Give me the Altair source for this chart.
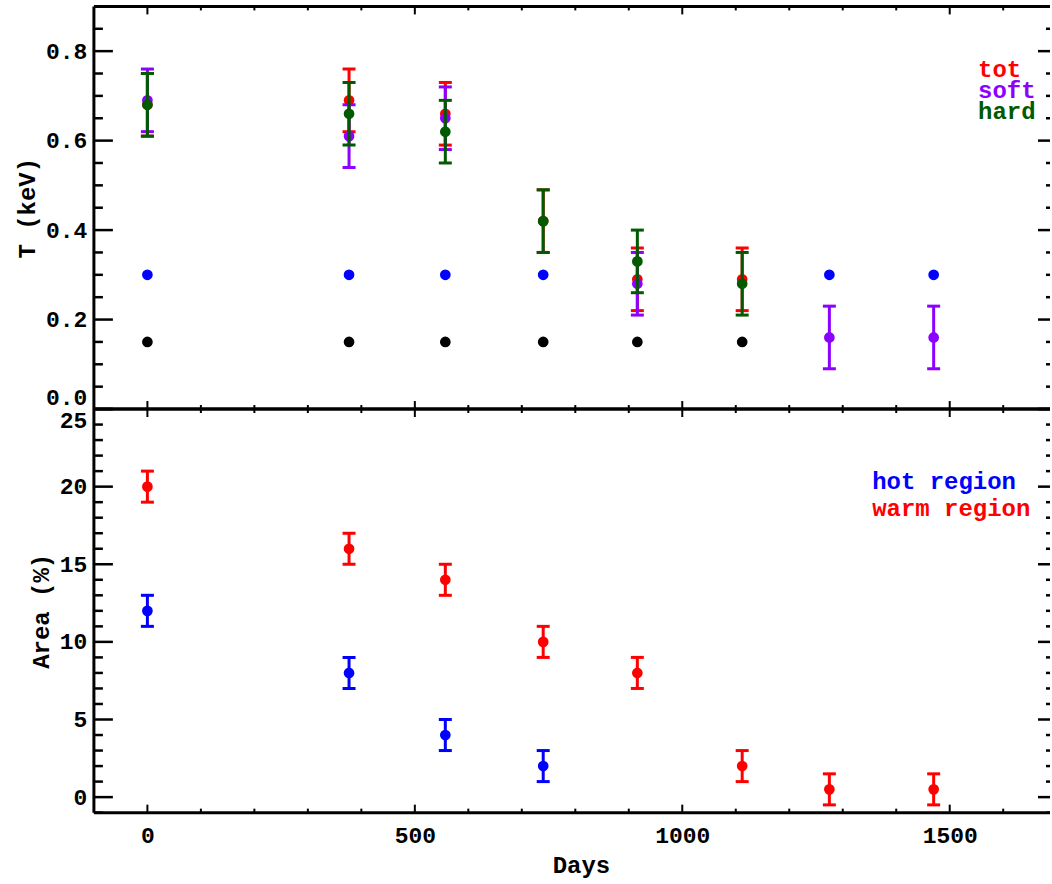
import altair as alt
import pandas as pd

# ---------------- data ----------------
tot_days = [0, 377, 557, 740, 916, 1112]
tot_T = [0.68, 0.69, 0.66, 0.42, 0.29, 0.29]
tot_err = [0.07, 0.07, 0.07, 0.07, 0.07, 0.07]

soft_days = [0, 377, 557, 916, 1275, 1470]
soft_T = [0.69, 0.61, 0.65, 0.28, 0.16, 0.16]
soft_err = [0.07, 0.07, 0.07, 0.07, 0.07, 0.07]

hard_days = [0, 377, 557, 740, 916, 1112]
hard_T = [0.68, 0.66, 0.62, 0.42, 0.33, 0.28]
hard_err = [0.07, 0.07, 0.07, 0.07, 0.07, 0.07]

hotT_days = [0, 377, 557, 740, 1275, 1470]
hotT = [0.30, 0.30, 0.30, 0.30, 0.30, 0.30]

coolT_days = [0, 377, 557, 740, 916, 1112]
coolT = [0.15, 0.15, 0.15, 0.15, 0.15, 0.15]

hot_area_days = [0, 377, 557, 740]
hot_area = [12, 8, 4, 2]
hot_area_err = [1, 1, 1, 1]

warm_area_days = [0, 377, 557, 740, 916, 1112, 1275, 1470]
warm_area = [20, 16, 14, 10, 8, 2, 0.5, 0.5]
warm_area_err = [1, 1, 1, 1, 1, 1, 1, 1]

x_major = [0, 500, 1000, 1500]
x_minor = [100, 200, 300, 400, 600, 700, 800, 900, 1100, 1200, 1300, 1400, 1600]
T_major = [0.0, 0.2, 0.4, 0.6, 0.8]
T_minor = [0.05, 0.1, 0.15, 0.25, 0.3, 0.35, 0.45, 0.5, 0.55, 0.65, 0.7, 0.75, 0.85]
A_major = [0, 5, 10, 15, 20, 25]
A_minor = [-1, 1, 2, 3, 4, 6, 7, 8, 9, 11, 12, 13, 14, 16, 17, 18, 19, 21, 22, 23, 24]

top_legend = ["tot", "soft", "hard"]
bot_legend = ["hot region", "warm region"]

RED = "#ff0000"
PURPLE = "#8c00ff"
GREEN = "#005a00"
BLUE = "#0000ff"
BLACK = "#000000"

# ---------------- layout ----------------
W = 957
H1 = 403
H2 = 404
FONT = "Liberation Mono"

XS = alt.Scale(domain=[-100, 1687.5], nice=False, zero=False)
TS = alt.Scale(domain=[0, 0.9], nice=False, zero=False)
AS = alt.Scale(domain=[-1, 25], nice=False, zero=False)

x_axis_bottom = alt.Axis(values=x_major, format="d", ticks=False, tickSize=0, domain=False,
                         grid=False, title="Days", labelPadding=12, titlePadding=6,
                         titleX=W / 2 + 9)
T_axis = alt.Axis(values=T_major, format=".1f", ticks=False, tickSize=0, domain=False,
                  grid=False, title="T (keV)", labelPadding=7, titlePadding=6, labelFlush=True)
A_axis = alt.Axis(values=A_major, format="d", ticks=False, tickSize=0, domain=False,
                  grid=False, title="Area (%)", labelPadding=7, titlePadding=6, labelFlush=True)


def series(days, vals, errs, color, ys, yax, xax):
    df = pd.DataFrame({
        "day": days,
        "val": vals,
        "lo": [v - e for v, e in zip(vals, errs)],
        "hi": [v + e for v, e in zip(vals, errs)],
    })
    base = alt.Chart(df)
    X = alt.X("day:Q", scale=XS, axis=xax)
    bar = base.mark_rule(color=color, strokeWidth=3, opacity=1).encode(
        x=X, y=alt.Y("lo:Q", scale=ys, axis=yax), y2="hi:Q")
    c1 = base.mark_tick(color=color, orient="horizontal", size=13, thickness=3, opacity=1).encode(
        x=X, y=alt.Y("lo:Q", scale=ys, axis=yax))
    c2 = base.mark_tick(color=color, orient="horizontal", size=13, thickness=3, opacity=1).encode(
        x=X, y=alt.Y("hi:Q", scale=ys, axis=yax))
    pt = base.mark_circle(color=color, size=115, opacity=1).encode(
        x=X, y=alt.Y("val:Q", scale=ys, axis=yax))
    return [bar, c1, c2, pt]


def points(days, vals, color, ys, yax, xax):
    df = pd.DataFrame({"day": days, "val": vals})
    return [alt.Chart(df).mark_circle(color=color, size=115, opacity=1).encode(
        x=alt.X("day:Q", scale=XS, axis=xax), y=alt.Y("val:Q", scale=ys, axis=yax))]


def frame(H, ys, yax, xax, y_major, y_minor):
    L = []
    one = pd.DataFrame({"d": [0]})
    bw = 3
    # borders (left, top, bottom); right edge is cropped in the reference
    L.append(alt.Chart(one).mark_rule(color=BLACK, strokeWidth=bw).encode(
        x=alt.value(0), y=alt.value(0), y2=alt.value(H)))
    L.append(alt.Chart(one).mark_rule(color=BLACK, strokeWidth=bw).encode(
        x=alt.value(0), x2=alt.value(W), y=alt.value(0)))
    L.append(alt.Chart(one).mark_rule(color=BLACK, strokeWidth=bw).encode(
        x=alt.value(0), x2=alt.value(W), y=alt.value(H)))
    # y ticks (inward) left and right
    for vals, ln, rl in [(y_major, 19, 12), (y_minor, 9, 4)]:
        d = pd.DataFrame({"v": vals})
        Y = alt.Y("v:Q", scale=ys, axis=yax)
        L.append(alt.Chart(d).mark_rule(color=BLACK, strokeWidth=2.5).encode(
            y=Y, x=alt.value(0), x2=alt.value(ln)))
        L.append(alt.Chart(d).mark_rule(color=BLACK, strokeWidth=2.5).encode(
            y=Y, x=alt.value(W - rl), x2=alt.value(W)))
    # x ticks (inward) top and bottom
    for vals, ln in [(x_major, 8), (x_minor, 4)]:
        d = pd.DataFrame({"v": vals})
        X = alt.X("v:Q", scale=XS, axis=xax)
        L.append(alt.Chart(d).mark_rule(color=BLACK, strokeWidth=2).encode(
            x=X, y=alt.value(0), y2=alt.value(ln)))
        L.append(alt.Chart(d).mark_rule(color=BLACK, strokeWidth=2).encode(
            x=X, y=alt.value(H - ln), y2=alt.value(H)))
    return L


def legend(labels, colors, x, ys_px):
    out = []
    for lab, col, yy in zip(labels, colors, ys_px):
        d = pd.DataFrame({"t": [lab]})
        out.append(alt.Chart(d).mark_text(
            color=col, font=FONT, fontSize=24, fontWeight="bold",
            align="left", baseline="alphabetic").encode(
            text="t:N", x=alt.value(x), y=alt.value(yy)))
    return out


# ---------------- top panel ----------------
top_layers = frame(H1, TS, T_axis, None, T_major, T_minor)
top_layers += points(hotT_days, hotT, BLUE, TS, T_axis, None)
top_layers += points(coolT_days, coolT, BLACK, TS, T_axis, None)
top_layers += series(tot_days, tot_T, tot_err, RED, TS, T_axis, None)
top_layers += series(soft_days, soft_T, soft_err, PURPLE, TS, T_axis, None)
top_layers += series(hard_days, hard_T, hard_err, GREEN, TS, T_axis, None)
top_layers += legend(top_legend, [RED, PURPLE, GREEN], 885, [71, 92, 113])
top = alt.layer(*top_layers).properties(width=W, height=H1)

# ---------------- bottom panel ----------------
bot_layers = frame(H2, AS, A_axis, x_axis_bottom, A_major, A_minor)
bot_layers += series(hot_area_days, hot_area, hot_area_err, BLUE, AS, A_axis, x_axis_bottom)
bot_layers += series(warm_area_days, warm_area, warm_area_err, RED, AS, A_axis, x_axis_bottom)
bot_layers += legend(bot_legend, [BLUE, RED], 779, [80, 107])
bottom = alt.layer(*bot_layers).properties(width=W, height=H2)

chart = alt.vconcat(top, bottom, spacing=0, bounds="flush").properties(
    padding={"left": 15, "top": 4, "right": 0, "bottom": 0},
    background="white",
).configure_view(stroke="transparent").configure_axis(
    labelFont=FONT, labelFontSize=23, labelFontWeight="bold", labelColor=BLACK,
    titleFont=FONT, titleFontSize=24, titleFontWeight="bold", titleColor=BLACK,
)

chart.save("out.html", embed_options={"renderer": "svg", "actions": False})
